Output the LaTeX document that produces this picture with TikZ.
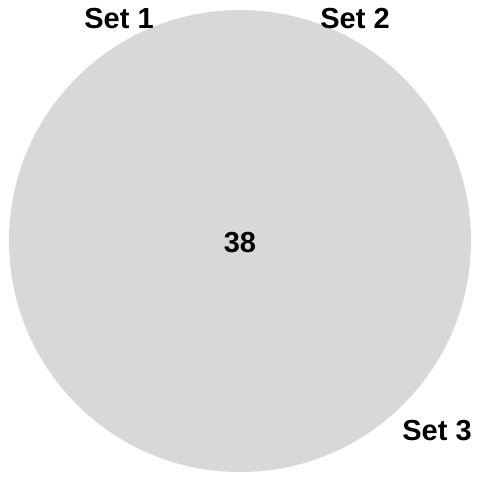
\documentclass[tikz,border=0pt]{standalone}
\usepackage{fontspec}
\setmainfont{Liberation Sans}
\definecolor{setgray}{HTML}{D9D8D7}
\begin{document}
\begin{tikzpicture}[x=1pt,y=-1pt,
  lbl/.style={font=\fontsize{29}{29}\selectfont\bfseries, inner sep=0pt, anchor=center}]
\useasboundingbox (0,0) rectangle (480,480);
\fill[setgray] (240,241) circle[radius=231];
\node[lbl] (s1) at (119,19) {Set 1};
\node[lbl] (s2) at (355,19) {Set 2};
\node[lbl] (s3) at (437,431) {Set 3};
\node[lbl] (n) at (240,243) {38};
\end{tikzpicture}
\end{document}
